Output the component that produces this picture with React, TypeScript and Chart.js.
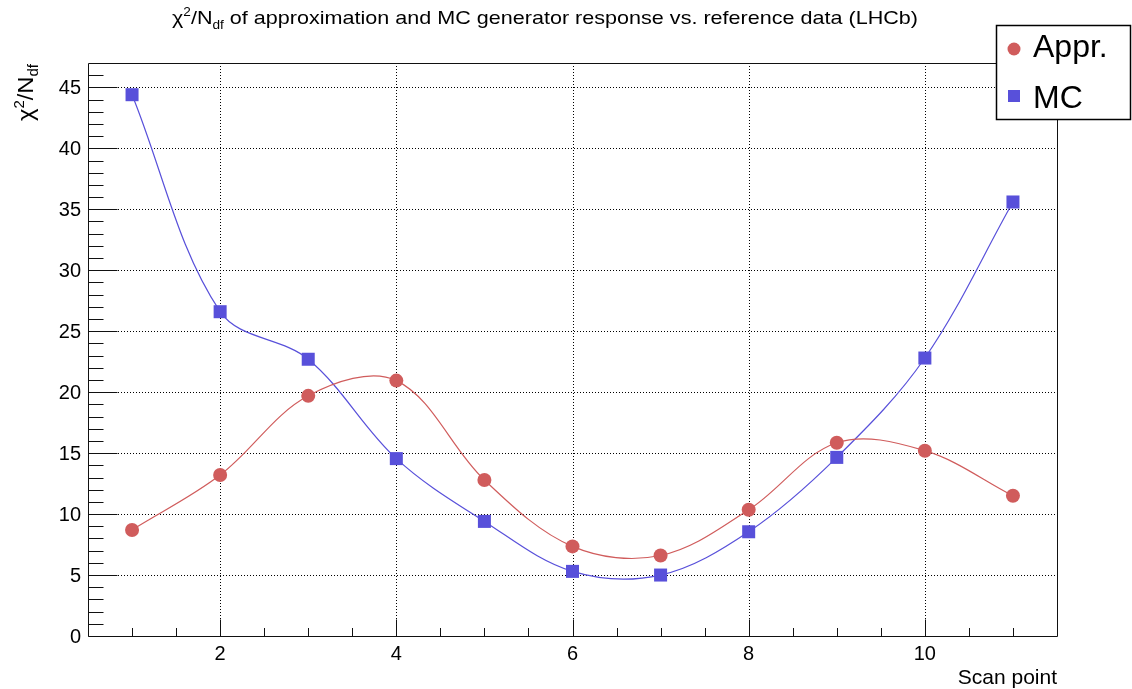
import React, { useEffect, useRef } from 'react';
import { Chart, registerables } from 'chart.js';

Chart.register(...registerables);

// ---- data ----
const scanPoints = [1, 2, 3, 4, 5, 6, 7, 8, 9, 10, 11];
const apprValues = [8.7, 13.2, 19.7, 20.95, 12.8, 7.35, 6.6, 10.35, 15.85, 15.2, 11.5];
const mcValues = [44.4, 26.6, 22.7, 14.55, 9.4, 5.3, 5.0, 8.55, 14.65, 22.8, 35.6];
const xTickValues = [2, 4, 6, 8, 10];
const xTickLabels = ['2', '4', '6', '8', '10'];
const yTickValues = [0, 5, 10, 15, 20, 25, 30, 35, 40, 45];
const yTickLabels = ['0', '5', '10', '15', '20', '25', '30', '35', '40', '45'];
const seriesNames = ['Appr.', 'MC'];
const titleText = ' of approximation and MC generator response vs. reference data (LHCb)';
const xTitle = 'Scan point';

const RED = 'rgb(208,92,92)';
const BLUE = 'rgb(88,80,218)';
const FONT = '"Liberation Sans", Arial, Helvetica, sans-serif';

function drawRich(ctx: any, segs: [string, number, number][], x0: number, y0: number, targetW: number, rotate: boolean) {
  let total = 0;
  for (const s of segs) { ctx.font = `${s[1]}px ${FONT}`; total += ctx.measureText(s[0]).width; }
  const sx = targetW / total;
  ctx.save();
  ctx.translate(x0, y0);
  if (rotate) ctx.rotate(-Math.PI / 2);
  ctx.scale(sx, 1);
  ctx.textAlign = 'left';
  ctx.textBaseline = 'alphabetic';
  let tx = 0;
  for (const s of segs) {
    ctx.font = `${s[1]}px ${FONT}`;
    ctx.fillText(s[0], tx, s[2]);
    tx += ctx.measureText(s[0]).width;
  }
  ctx.restore();
}

const rootPlugin = {
  id: 'rootStyle',
  beforeDatasetsDraw(chart: any) {
    const { ctx, chartArea: a, scales } = chart;
    const xs = scales.x, ys = scales.y;
    ctx.save();
    ctx.strokeStyle = '#000';
    ctx.lineWidth = 1;
    ctx.setLineDash([1, 2]);
    for (const v of xTickValues) {
      const px = Math.round(xs.getPixelForValue(v)) + 0.5;
      ctx.beginPath();
      ctx.moveTo(px, a.top);
      ctx.lineTo(px, a.bottom);
      ctx.stroke();
    }
    for (const v of yTickValues) {
      if (v === 0) continue;
      const py = Math.round(ys.getPixelForValue(v)) + 0.5;
      ctx.beginPath();
      ctx.moveTo(a.left, py);
      ctx.lineTo(a.right, py);
      ctx.stroke();
    }
    ctx.restore();
  },
  afterDatasetsDraw(chart: any) {
    const { ctx, chartArea: a, scales } = chart;
    const xs = scales.x, ys = scales.y;
    ctx.save();
    ctx.setLineDash([]);
    ctx.strokeStyle = '#111';
    ctx.lineWidth = 1;
    // frame
    const L = Math.round(a.left) + 0.5, R = Math.round(a.right) + 0.5;
    const T = Math.round(a.top) + 0.5, B = Math.round(a.bottom) + 0.5;
    ctx.beginPath();
    ctx.rect(L, T, R - L, B - T);
    ctx.stroke();
    // y ticks
    const yMajor = 29, yMinor = 15;
    for (let v = 0; v <= 46; v++) {
      const py = Math.round(ys.getPixelForValue(v)) + 0.5;
      const len = v % 5 === 0 ? yMajor : yMinor;
      ctx.beginPath();
      ctx.moveTo(L, py);
      ctx.lineTo(L + len, py);
      ctx.stroke();
    }
    // x ticks
    const xMajor = 17, xMinor = 8.5;
    for (let k = 2; k <= 22; k++) {
      const v = k / 2;
      const px = Math.round(xs.getPixelForValue(v)) + 0.5;
      const len = v % 2 === 0 ? xMajor : xMinor;
      ctx.beginPath();
      ctx.moveTo(px, B);
      ctx.lineTo(px, B - len);
      ctx.stroke();
    }
    // tick labels
    ctx.fillStyle = '#000';
    ctx.font = `20px ${FONT}`;
    ctx.textAlign = 'right';
    ctx.textBaseline = 'middle';
    yTickValues.forEach((v, i) => {
      ctx.fillText(yTickLabels[i], a.left - 7, ys.getPixelForValue(v) + 1);
    });
    ctx.textAlign = 'center';
    ctx.textBaseline = 'alphabetic';
    xTickValues.forEach((v, i) => {
      ctx.fillText(xTickLabels[i], xs.getPixelForValue(v), 660);
    });
    // x title
    ctx.font = `21px ${FONT}`;
    ctx.textAlign = 'right';
    ctx.fillText(xTitle, a.right, 684);

    // y title (rotated)
    drawRich(ctx, [
      ['\u03c7', 22, 0],
      ['2', 14, -9],
      ['/N', 22, 0],
      ['df', 14, 5],
    ], 33, 121, 57, true);

    // title
    drawRich(ctx, [
      ['\u03c7', 19, 0],
      ['2', 12, -8],
      ['/N', 19, 0],
      ['df', 12, 5],
      [titleText, 19, 0],
    ], 172, 24, 746, false);

    // legend
    ctx.fillStyle = '#fff';
    ctx.fillRect(996, 25, 135, 94);
    ctx.strokeStyle = '#000';
    ctx.lineWidth = 1.5;
    ctx.strokeRect(996.5, 25.5, 134, 94);
    ctx.fillStyle = RED;
    ctx.beginPath();
    ctx.arc(1014, 49, 6.5, 0, Math.PI * 2);
    ctx.fill();
    ctx.fillStyle = BLUE;
    ctx.fillRect(1008, 90, 12, 12);
    ctx.fillStyle = '#000';
    ctx.font = `32px ${FONT}`;
    ctx.textAlign = 'left';
    ctx.fillText(seriesNames[0], 1033, 57);
    ctx.fillText(seriesNames[1], 1033, 108);
    ctx.restore();
  },
};

export default function App() {
  const ref = useRef<HTMLCanvasElement | null>(null);
  useEffect(() => {
    document.body.style.margin = '0';
    const canvas = ref.current!;
    const chart = new Chart(canvas, {
      type: 'scatter',
      data: {
        datasets: [
          {
            label: seriesNames[0],
            data: scanPoints.map((x, i) => ({ x, y: apprValues[i] })),
            showLine: true,
            borderColor: RED,
            backgroundColor: RED,
            borderWidth: 1.2,
            pointStyle: 'circle',
            pointRadius: 7,
            pointBorderWidth: 0,
            pointBackgroundColor: RED,
            tension: 0.35,
          },
          {
            label: seriesNames[1],
            data: scanPoints.map((x, i) => ({ x, y: mcValues[i] })),
            showLine: true,
            borderColor: BLUE,
            backgroundColor: BLUE,
            borderWidth: 1.2,
            pointStyle: 'rect',
            pointRadius: 9.2,
            pointBorderWidth: 0,
            pointBackgroundColor: BLUE,
            tension: 0.35,
          },
        ],
      },
      options: {
        responsive: false,
        animation: false,
        layout: { padding: { left: 88, right: 1132 - 1057, top: 63, bottom: 689 - 636 } },
        scales: {
          x: { type: 'linear', min: 0.5, max: 11.5, display: false },
          y: { type: 'linear', min: 0, max: 47, display: false },
        },
        plugins: {
          legend: { display: false },
          tooltip: { enabled: false },
          title: { display: false },
        },
      },
      plugins: [rootPlugin],
    });
    return () => chart.destroy();
  }, []);
  return <canvas ref={ref} width={1132} height={689} style={{ display: 'block' }} />;
}
